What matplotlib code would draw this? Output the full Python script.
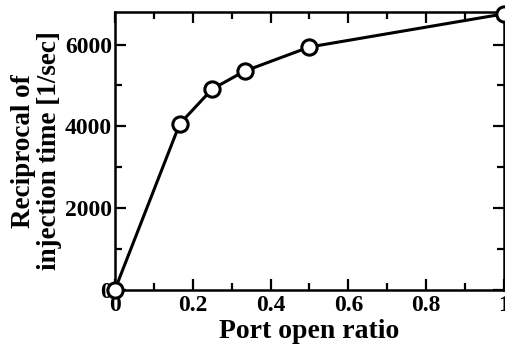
import numpy as np
import matplotlib.pyplot as plt
from matplotlib.ticker import MultipleLocator

# port open ratio vs reciprocal of injection time
ratio = [0, 1/6, 1/4, 1/3, 1/2, 1]
recip = [0, 4060, 4910, 5350, 5940, 6750]

plt.rcParams['font.family'] = ['Liberation Serif', 'DejaVu Serif']
plt.rcParams['font.weight'] = 'bold'

fig = plt.figure(figsize=(5.06, 3.48), dpi=100)
ax = fig.add_axes([0.227, 0.167, 0.769, 0.799])

ax.plot(ratio, recip, color='black', lw=2.2, marker='o', ms=11,
        mfc='white', mec='black', mew=2.2, clip_on=False, zorder=5)

ax.set_xlim(0, 1)
ax.set_ylim(0, 6800)
ax.xaxis.set_major_locator(MultipleLocator(0.2))
ax.xaxis.set_minor_locator(MultipleLocator(0.1))
ax.yaxis.set_major_locator(MultipleLocator(2000))
ax.yaxis.set_minor_locator(MultipleLocator(1000))
ax.set_xticks([0, 0.2, 0.4, 0.6, 0.8, 1])
ax.set_xticklabels(['0', '0.2', '0.4', '0.6', '0.8', '1'])

ax.tick_params(which='both', direction='in', top=True, right=True,
               width=1.6, labelsize=17)
ax.tick_params(axis='x', pad=4)
ax.tick_params(axis='y', pad=2)
ax.tick_params(which='major', length=8)
ax.tick_params(which='minor', length=5)
for s in ax.spines.values():
    s.set_linewidth(1.8)

ax.set_xlabel('Port open ratio', fontsize=20, fontweight='bold', labelpad=2)
ax.set_ylabel('Reciprocal of\ninjection time [1/sec]', fontsize=19.5,
              fontweight='bold', labelpad=2, linespacing=1.05)

fig.savefig('out.png', dpi=100)
